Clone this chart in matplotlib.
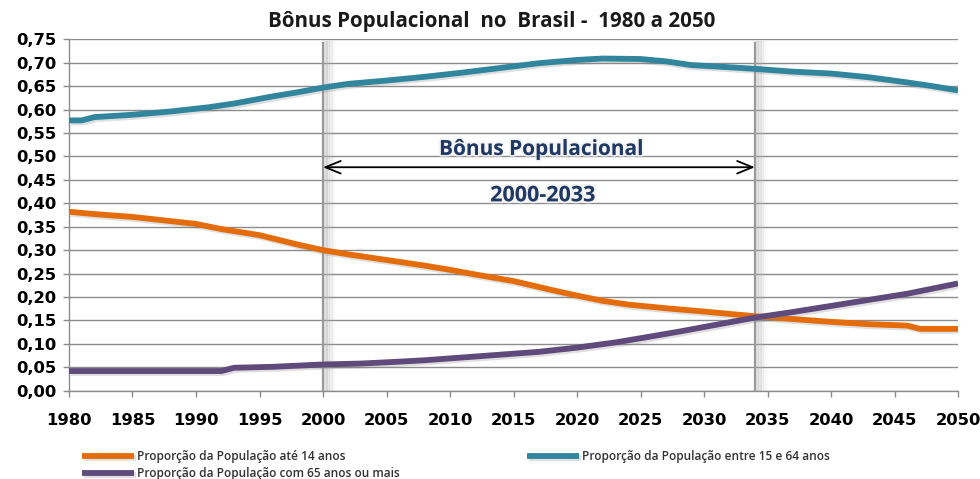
import matplotlib
matplotlib.use("Agg")
import matplotlib.pyplot as plt
import matplotlib.patheffects as pe
from matplotlib.ticker import FuncFormatter

# Values
anos_jovens = [1980, 1982, 1985, 1988, 1990, 1992, 1995, 1998, 2000, 2002, 2005, 2008, 2010,
               2012, 2015, 2018, 2020, 2022, 2024, 2027, 2030, 2034, 2037, 2040, 2043, 2046,
               2047, 2050]
pop_ate_14 = [0.382, 0.377, 0.371, 0.362, 0.356, 0.345, 0.332, 0.312, 0.300, 0.291, 0.279,
              0.267, 0.258, 0.248, 0.234, 0.215, 0.203, 0.192, 0.184, 0.176, 0.169, 0.159,
              0.153, 0.147, 0.142, 0.139, 0.132, 0.132]

anos_ativos = [1980, 1981, 1982, 1985, 1988, 1991, 1993, 1996, 1998, 2000, 2002, 2005, 2008,
               2011, 2014, 2017, 2020, 2022, 2025, 2027, 2029, 2031, 2034, 2037, 2040, 2043,
               2046, 2048, 2050]
pop_15_64 = [0.577, 0.577, 0.584, 0.589, 0.596, 0.605, 0.613, 0.628, 0.637, 0.647, 0.655,
             0.662, 0.670, 0.679, 0.689, 0.699, 0.706, 0.709, 0.708, 0.703, 0.695, 0.692,
             0.687, 0.681, 0.677, 0.669, 0.658, 0.650, 0.641]

anos_idosos = [1980, 1992, 1993, 1996, 2000, 2003, 2006, 2008, 2011, 2014, 2017, 2020, 2023,
               2025, 2028, 2031, 2034, 2037, 2040, 2043, 2046, 2048, 2050]
pop_65_mais = [0.042, 0.042, 0.049, 0.051, 0.056, 0.058, 0.062, 0.065, 0.071, 0.077, 0.083,
               0.092, 0.103, 0.112, 0.126, 0.141, 0.156, 0.168, 0.181, 0.194, 0.207, 0.218,
               0.229]

bonus_inicio = 2000
bonus_fim = 2034
x_ticks = list(range(1980, 2051, 5))
y_ticks = [round(v * 0.05, 2) for v in range(16)]

LARANJA = "#E46C0A"
AZUL = "#31859C"
ROXO = "#604A7B"
NAVY = "#1F3864"

fig = plt.figure(figsize=(9.8, 4.79), dpi=100)
ax = fig.add_axes([0.0704, 0.1843, 0.9072, 0.7336])

sombra = [pe.SimpleLineShadow(offset=(1.5, -1.5), alpha=0.25, shadow_color="gray"), pe.Normal()]

l1, = ax.plot(anos_jovens, pop_ate_14, color=LARANJA, lw=4.2, solid_capstyle="butt",
              path_effects=sombra, label="Proporção da População até 14 anos", zorder=4)
l2, = ax.plot(anos_ativos, pop_15_64, color=AZUL, lw=4.2, solid_capstyle="butt",
              path_effects=sombra, label="Proporção da População entre 15 e 64 anos", zorder=4)
l3, = ax.plot(anos_idosos, pop_65_mais, color=ROXO, lw=4.2, solid_capstyle="butt",
              path_effects=sombra, label="Proporção da População com 65 anos ou mais", zorder=4)

# vertical markers with a soft shadow fading to the right
for xv in (bonus_inicio, bonus_fim):
    for k, a in enumerate([0.35, 0.25, 0.16, 0.08]):
        ax.axvline(xv + 0.2 + 0.2 * k, ymax=0.99, color="#b0b0b0", lw=3, alpha=a, zorder=2)
    ax.axvline(xv, ymax=0.99, color="#9a9a9a", lw=1.6, zorder=3)

ax.annotate("", xy=(bonus_inicio, 0.477), xytext=(bonus_fim, 0.477),
            arrowprops=dict(arrowstyle="<->,head_length=1.1,head_width=0.45", color="black",
                            lw=1.3, shrinkA=0, shrinkB=0), zorder=5)
efeito_txt = [pe.withStroke(linewidth=3, foreground="#eeeeee", alpha=0.6)]
ax.text(2017.2, 0.515, "Bônus Populacional", ha="center", va="center", fontsize=15,
        fontweight="bold", color=NAVY, family="Open Sans", path_effects=efeito_txt, zorder=6)
ax.text(2017.3, 0.416, "2000-2033", ha="center", va="center", fontsize=15.5,
        fontweight="bold", color=NAVY, family="Open Sans", path_effects=efeito_txt, zorder=6)

ax.set_xlim(1980, 2050)
ax.set_ylim(0, 0.75)
ax.set_xticks(x_ticks)
ax.set_yticks(y_ticks)
ax.yaxis.set_major_formatter(FuncFormatter(lambda v, p: f"{v:.2f}".replace(".", ",")))
ax.grid(axis="y", color="#8c8c8c", lw=1.0)
ax.set_axisbelow(True)
for s in ("top", "right"):
    ax.spines[s].set_visible(False)
for s in ("left", "bottom"):
    ax.spines[s].set_color("#8c8c8c")
    ax.spines[s].set_linewidth(1.0)
ax.tick_params(axis="both", colors="#8c8c8c", length=4, width=1.0, direction="out")
ax.tick_params(axis="y", pad=5)
ax.tick_params(axis="x", pad=12)
for lab in ax.get_xticklabels() + ax.get_yticklabels():
    lab.set_color("black")
    lab.set_fontweight("bold")
    lab.set_fontsize(11.8)
    lab.set_family("DejaVu Sans")

fig.text(0.502, 0.955, "Bônus Populacional  no  Brasil -  1980 a 2050", ha="center",
         va="center", fontsize=14.8, fontweight="bold", family="Open Sans", color="#1a1a1a")

leg = fig.legend(handles=[l1, l3, l2], loc="lower left", bbox_to_anchor=(0.073, -0.024),
                 ncol=2, frameon=False, handlelength=4.3, handletextpad=0.25,
                 columnspacing=10.7, labelspacing=0.28,
                 prop={"family": "Open Sans", "weight": "semibold", "size": 8.6})
for t in leg.get_texts():
    t.set_color("#333333")

fig.savefig("out.png", dpi=100)
